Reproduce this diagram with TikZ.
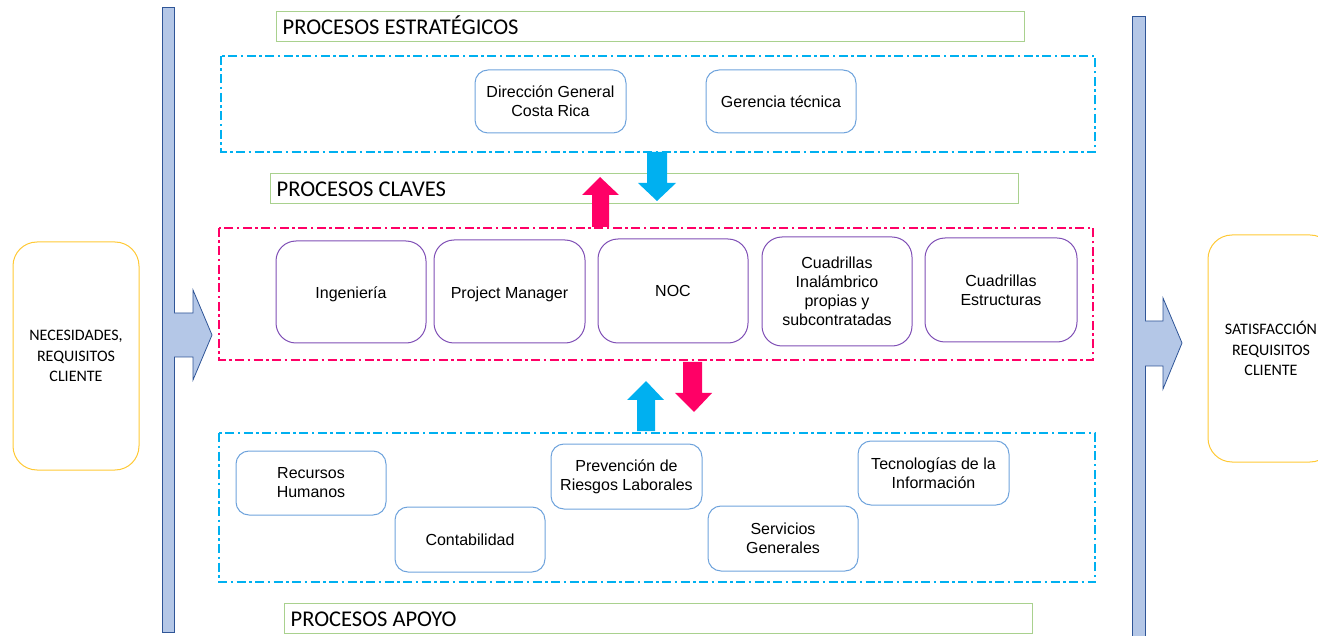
\documentclass[tikz,border=0pt]{standalone}
\usepackage{fontspec}
\setmainfont{Liberation Sans}
\newfontfamily\calib{Carlito}
\definecolor{hgreen}{HTML}{A9D18E}
\definecolor{dblue}{HTML}{00B0F0}
\definecolor{dred}{HTML}{FF0066}
\definecolor{bpurple}{HTML}{7F4FB5}
\definecolor{bblue}{HTML}{6FA3DC}
\definecolor{byellow}{HTML}{FFC936}
\definecolor{barfill}{HTML}{B4C7E7}
\definecolor{barline}{HTML}{2F5597}
\newcommand{\dn}[1]{\raisebox{-2.5pt}[\height][\depth]{#1}}
\tikzset{
  header/.style={draw=hgreen, line width=1.4pt, anchor=north west, inner sep=0pt, minimum height=30pt,
    text height=15pt, font=\calib\fontsize{22.5}{24}\selectfont, align=left},
  zone/.style={line width=1.5pt, dash pattern=on 9pt off 3.5pt on 2.5pt off 3.5pt},
  pbox/.style={draw=bpurple, line width=1pt, rounded corners=20pt, align=center, inner sep=0pt,
    font=\fontsize{16}{19}\selectfont},
  bbox/.style={draw=bblue, line width=1pt, rounded corners=13pt, align=center, inner sep=0pt,
    font=\fontsize{16}{19}\selectfont},
  ybox/.style={draw=byellow, line width=1pt, rounded corners=24pt, align=center, inner sep=0pt,
    font=\calib\fontsize{16}{20.5}\selectfont},
  bar/.style={fill=barfill, draw=barline, line width=1pt},
  bigarrow/.style={fill=barfill, draw=barline, line width=0.8pt, line join=miter}
}
\begin{document}
\begin{tikzpicture}[x=1pt,y=-1pt]
\useasboundingbox (0,0) rectangle (1318,636);
% side bars
\draw[bar] (162,8) rectangle (174,632);
\draw[bar] (1132,17) rectangle (1145,640);
% side arrows
\draw[bigarrow] (174,313) -- (193,313) -- (193,290) -- (212,335) -- (193,380) -- (193,357) -- (174,357);
\draw[bigarrow] (1145,321) -- (1163,321) -- (1163,298) -- (1182,343) -- (1163,389) -- (1163,366) -- (1145,366);
% side boxes
\node[ybox, minimum width=126pt, minimum height=228pt] (nec) at (76,356) {NECESIDADES,\\REQUISITOS\\CLIENTE};
\node[ybox, minimum width=126pt, minimum height=227pt] (sat) at (1271,348.5) {SATISFACCIÓN\\REQUISITOS\\CLIENTE};
% headers
\node[header, text width=748pt] (hest) at (276,11) {\hspace*{6pt}PROCESOS\hspace{5pt}ESTRATÉGICOS};
\node[header, text width=748pt] (hcla) at (270,173) {\hspace*{6pt}PROCESOS\hspace{5pt}CLAVES};
\node[header, text width=748pt] (hapo) at (284,603) {\hspace*{6pt}PROCESOS\hspace{5pt}APOYO};
% zones
\draw[zone, dblue] (221,56) rectangle (1095,152);
\draw[zone, dred] (219,228) rectangle (1093,360);
\draw[zone, dblue] (219,433) rectangle (1095,582);
% strategic
\node[bbox, minimum width=151pt, minimum height=63pt] (dir) at (550.5,101.5) {Dirección General\\Costa Rica};
\node[bbox, minimum width=150pt, minimum height=63pt] (ger) at (781,101.5) {Gerencia técnica};
% key
\node[pbox, minimum width=150pt, minimum height=102pt] (ing) at (351,292) {\dn{Ingeniería}};
\node[pbox, minimum width=151pt, minimum height=103pt] (pm) at (509.5,291.5) {\dn{Project Manager}};
\node[pbox, minimum width=150pt, minimum height=104pt] (noc) at (673,291) {NOC};
\node[pbox, minimum width=150pt, minimum height=109pt] (cin) at (837,291.5) {Cuadrillas\\Inalámbrico\\propias y\\subcontratadas};
\node[pbox, minimum width=152pt, minimum height=104pt] (ces) at (1001,290) {Cuadrillas\\Estructuras};
% support
\node[bbox, minimum width=150pt, minimum height=64pt] (rh) at (311,483) {Recursos\\Humanos};
\node[bbox, minimum width=150pt, minimum height=65pt] (con) at (470,539.5) {Contabilidad};
\node[bbox, minimum width=151pt, minimum height=65pt] (prl) at (626.5,476.5) {Prevención de\\Riesgos Laborales};
\node[bbox, minimum width=150pt, minimum height=65pt] (sg) at (783,538.5) {Servicios\\Generales};
\node[bbox, minimum width=151pt, minimum height=64pt] (ti) at (933.5,473) {Tecnologías de la\\Información};
% flow arrows
\fill[dblue] (647,152) -- (667,152) -- (667,183) -- (676,183) -- (657,201) -- (638,183) -- (647,183) -- cycle;
\fill[dred] (592,227) -- (609,227) -- (609,195) -- (619,195) -- (600,177) -- (582,195) -- (592,195) -- cycle;
\fill[dred] (683,362) -- (702,362) -- (702,393) -- (712,393) -- (694,412) -- (675,393) -- (683,393) -- cycle;
\fill[dblue] (637,431) -- (655,431) -- (655,400) -- (664,400) -- (646,381) -- (627,400) -- (637,400) -- cycle;
\end{tikzpicture}
\end{document}
